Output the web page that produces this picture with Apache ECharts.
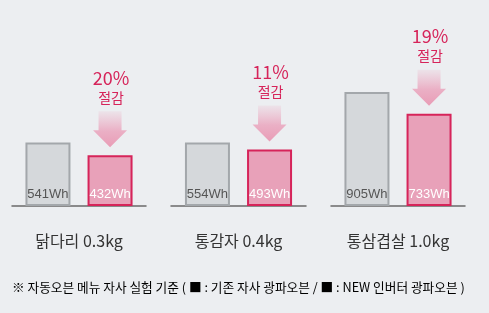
<!DOCTYPE html>
<html>
<head>
<meta charset="utf-8">
<script src="https://cdn.jsdelivr.net/npm/echarts@6/dist/echarts.min.js"></script>
<style>
html,body{margin:0;padding:0;background:#eceef1;}
#chart{width:489px;height:313px;}
</style>
</head>
<body>
<div id="chart"></div>
<script>
const categories = ['닭다리 0.3kg', '통감자 0.4kg', '통삼겹살 1.0kg'];
const oldValues = [541, 554, 905];
const newValues = [432, 493, 733];
const savings = ['20%', '11%', '19%'];
const savingWord = '절감';
const unit = 'Wh';
const footnote = ['※ 자동오븐 메뉴 자사 실험 기준 ( ', '■', ' : 기존 자사 광파오븐 / ', '■', ' : NEW 인버터 광파오븐 )'];

const KR = "'Noto Sans CJK KR', 'Noto Sans', sans-serif";
const NUM = "'Liberation Sans Narrow', 'Liberation Sans', Arial, sans-serif";
const CRIMSON = '#d6245a';

const gridLayout = [
  {left: 12, width: 134},
  {left: 171, width: 135},
  {left: 331, width: 134}
];
const axisMax = [1329, 1361, 1238];
const barWidth = 45;
const barGapPct = 38;
const pinkOffset = (barWidth + barWidth * barGapPct / 100) / 2;

const grids = [], xAxes = [], yAxes = [], series = [];
categories.forEach((cat, i) => {
  grids.push({left: gridLayout[i].left, width: gridLayout[i].width, top: 50, bottom: 107});
  xAxes.push({
    type: 'category', gridIndex: i, data: [cat],
    axisLine: {show: true, lineStyle: {color: '#6a6a6a', width: 1.5}},
    axisTick: {show: false},
    axisLabel: {margin: 27, fontSize: 16, color: '#333', fontFamily: KR}
  });
  yAxes.push({type: 'value', gridIndex: i, min: 0, max: axisMax[i], show: false, splitLine: {show: false}});
  series.push({
    type: 'bar', xAxisIndex: i, yAxisIndex: i, data: [oldValues[i]],
    barWidth: barWidth, barGap: barGapPct + '%',
    itemStyle: {color: '#d5d8db', borderColor: '#a3a7ab', borderWidth: 2},
    label: {show: true, position: 'insideBottom', distance: 5, formatter: p => p.value + unit,
      color: '#555', fontSize: 13, fontFamily: NUM},
    silent: true, animation: false
  });
  series.push({
    type: 'bar', xAxisIndex: i, yAxisIndex: i, data: [newValues[i]],
    barWidth: barWidth, barGap: barGapPct + '%',
    itemStyle: {color: '#e8a1b9', borderColor: CRIMSON, borderWidth: 2},
    label: {show: true, position: 'insideBottom', distance: 5, formatter: p => p.value + unit,
      color: '#fff', fontSize: 13, fontFamily: NUM},
    silent: true, animation: false
  });
  series.push({
    type: 'custom', xAxisIndex: i, yAxisIndex: i, z: 10, clip: false, silent: true, animation: false,
    data: [[0, newValues[i], savings[i]]],
    renderItem: function (params, api) {
      const p = api.coord([api.value(0), api.value(1)]);
      const x = p[0] + pinkOffset, y = p[1];
      return {
        type: 'group',
        children: [
          {
            type: 'polygon',
            shape: {points: [[x - 11.5, y - 44], [x + 11.5, y - 44], [x + 11.5, y - 25], [x + 17, y - 25],
              [x, y - 8], [x - 17, y - 25], [x - 11.5, y - 25]]},
            style: {fill: new echarts.graphic.LinearGradient(0, 0, 0, 1, [
              {offset: 0, color: 'rgba(236,165,190,0.15)'},
              {offset: 0.55, color: 'rgba(234,160,186,0.8)'},
              {offset: 1, color: '#e99cb6'}
            ])}
          },
          {
            type: 'text',
            style: {text: savings[i], x: x + 1, y: y - 77, align: 'center', verticalAlign: 'middle',
              fill: CRIMSON, fontSize: 18, fontFamily: KR}
          },
          {
            type: 'text',
            style: {text: savingWord, x: x + 1, y: y - 57.5, align: 'center', verticalAlign: 'middle',
              fill: CRIMSON, fontSize: 14, fontFamily: KR}
          }
        ]
      };
    }
  });
});

const chart = echarts.init(document.getElementById('chart'));
chart.setOption({
  backgroundColor: '#eceef1',
  animation: false,
  grid: grids,
  xAxis: xAxes,
  yAxis: yAxes,
  series: series,
  graphic: [{
    type: 'text', left: 12, top: 281, silent: true,
    style: {
      text: '{a|' + footnote[0] + '}{b|' + footnote[1] + '}{a|' + footnote[2] + '}{c|' + footnote[3] + '}{a|' + footnote[4] + '}',
      rich: {
        a: {fontSize: 12.7, color: '#555', fontFamily: KR},
        b: {fontSize: 12.7, color: '#333', fontFamily: KR},
        c: {fontSize: 12.7, color: CRIMSON, fontFamily: KR}
      }
    }
  }]
});
</script>
</body>
</html>
